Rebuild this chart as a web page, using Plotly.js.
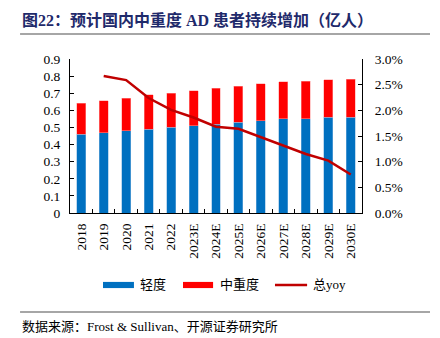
<!DOCTYPE html>
<html><head><meta charset="utf-8">
<script src="https://cdn.plot.ly/plotly-3.0.1.min.js"></script>
<style>html,body{margin:0;padding:0;background:#fff}#c{width:440px;height:338px}</style>
</head><body><div id="c"></div>
<script>
const categories = ["2018","2019","2020","2021","2022","2023E","2024E","2025E","2026E","2027E","2028E","2029E","2030E"];
const mild = [0.46,0.47,0.48,0.49,0.50,0.51,0.52,0.53,0.54,0.55,0.55,0.56,0.56];
const moderateSevere = [0.18,0.185,0.19,0.20,0.20,0.205,0.21,0.21,0.214,0.217,0.22,0.22,0.222];
const totalYoy = [null,0.0267,0.0259,0.0224,0.0201,0.0186,0.0168,0.0164,0.0148,0.0131,0.0115,0.0102,0.0075];
const seriesNames = ["轻度","中重度","总yoy"];

const serif = "Liberation Serif";
const mixed = "Liberation Serif, Noto Sans CJK SC";
const cjk = "Noto Sans CJK SC";
const blue = "#0070C0", red = "#FF0000", dark = "#C00000";
const data = [
  {type:"bar", name:seriesNames[0], x:categories, y:mild, marker:{color:blue, line:{color:"#7FB3E0", width:0.5}}},
  {type:"bar", name:seriesNames[1], x:categories, y:moderateSevere, marker:{color:red, line:{color:"#FF9999", width:0.5}}},
  {type:"scatter", mode:"lines", name:seriesNames[2], x:categories, y:totalYoy, yaxis:"y2", line:{color:dark, width:2.5}}
];
const ly = -0.4675;
const layout = {
  width:440, height:338,
  margin:{l:70, r:78, t:59, b:125},
  paper_bgcolor:"#fff", plot_bgcolor:"#fff",
  barmode:"stack", bargap:0.6,
  showlegend:false,
  xaxis:{type:"category", showline:true, linecolor:"#000", linewidth:1, ticks:"inside", ticklen:4, tickcolor:"#000",
    tickson:"boundaries", tickangle:-90, ticklabelstandoff:4, tickfont:{family:serif, size:13.5, color:"#000"}, showgrid:false},
  yaxis:{range:[0,0.9], dtick:0.1, tickformat:".1~f", showline:true, linecolor:"#000", linewidth:1, ticks:"inside", ticklen:4,
    tickcolor:"#000", showgrid:false, zeroline:false, ticklabelstandoff:6, tickfont:{family:serif, size:13.5, color:"#000"}},
  yaxis2:{range:[0,0.03], dtick:0.005, tickformat:".1%", overlaying:"y", side:"right", showline:true, linecolor:"#000", linewidth:1,
    ticks:"inside", ticklen:4, tickcolor:"#000", showgrid:false, zeroline:false, ticklabelstandoff:9, tickfont:{family:serif, size:13.5, color:"#000"}},
  shapes:[
    {type:"line", xref:"paper", yref:"paper", x0:-0.171, x1:1.233, y0:1.162, y1:1.162, line:{color:"#888", width:1.5}},
    {type:"line", xref:"paper", yref:"paper", x0:-0.171, x1:1.233, y0:-0.643, y1:-0.643, line:{color:"#888", width:1.5}},
    {type:"rect", xref:"paper", yref:"paper", x0:0.113, x1:0.219, y0:ly-0.02, y1:ly+0.02, fillcolor:blue, line:{width:0}},
    {type:"rect", xref:"paper", yref:"paper", x0:0.387, x1:0.490, y0:ly-0.02, y1:ly+0.02, fillcolor:red, line:{width:0}},
    {type:"line", xref:"paper", yref:"paper", x0:0.702, x1:0.812, y0:ly, y1:ly, line:{color:dark, width:2.5}}
  ],
  annotations:[
    {xref:"paper", yref:"paper", x:-0.17, y:1.253, xanchor:"left", yanchor:"middle", showarrow:false,
     text:"<b>图22：预计国内中重度 AD 患者持续增加（亿人）</b>", font:{family:mixed, size:16, color:"#1F2A6B"}},
    {xref:"paper", yref:"paper", x:-0.17, y:-0.74, xanchor:"left", yanchor:"middle", showarrow:false,
     text:"数据来源：Frost &amp; Sullivan、开源证券研究所", font:{family:mixed, size:13, color:"#000"}},
    {xref:"paper", yref:"paper", x:0.233, y:ly, xanchor:"left", yanchor:"middle", showarrow:false,
     text:seriesNames[0], font:{family:mixed, size:13, color:"#000"}},
    {xref:"paper", yref:"paper", x:0.507, y:ly, xanchor:"left", yanchor:"middle", showarrow:false,
     text:seriesNames[1], font:{family:mixed, size:13, color:"#000"}},
    {xref:"paper", yref:"paper", x:0.826, y:ly, xanchor:"left", yanchor:"middle", showarrow:false,
     text:seriesNames[2], font:{family:mixed, size:13, color:"#000"}}
  ]
};
Plotly.newPlot("c", data, layout, {staticPlot:true});
</script></body></html>
